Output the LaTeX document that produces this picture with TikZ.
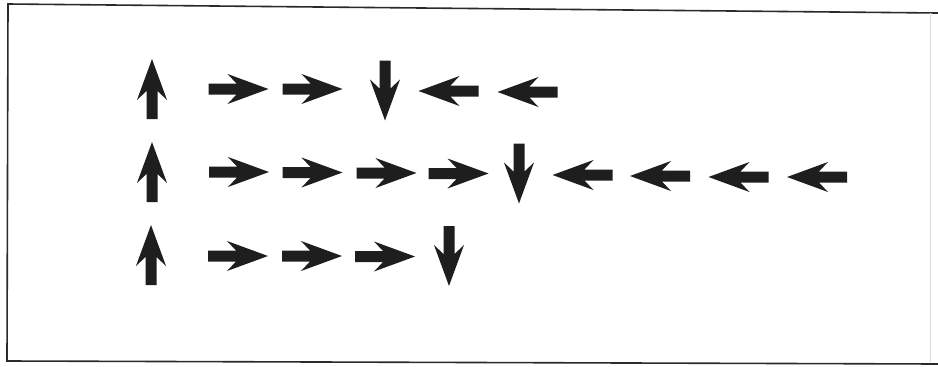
\documentclass[tikz,border=0pt]{standalone}
\begin{document}
\begin{tikzpicture}[x=1pt,y=1pt]
\definecolor{ink}{HTML}{1E1E1E}
\definecolor{frame}{HTML}{2A2A2A}
\tikzset{
  arr/.pic={\fill[ink] (-30,-5.5) -- (-2,-5.5) -- (-11,-15) -- (30,0) -- (-11,15) -- (-2,5.5) -- (-30,5.5) -- cycle;},
  frameline/.style={draw=frame, line width=1.6pt},
}
\fill[white] (0,0) rectangle (938,-367);
\useasboundingbox (0,0) rectangle (938,-367);
% frame
\coordinate (tl) at (8,-4);
\coordinate (tr) at (938,-13);
\coordinate (bl) at (7,-361);
\coordinate (br) at (938,-364);
\draw[frameline] (tr) -- (tl) -- (bl) -- (br);
\draw[draw=black!15, line width=1pt] (930,-13) -- (930,-362);
% row 1
\pic[rotate=90]  at (152,-89)   {arr};
\pic             at (238.5,-89) {arr};
\pic             at (312.5,-89) {arr};
\pic[rotate=-90] at (385,-90.5) {arr};
\pic[rotate=180] at (448.5,-91) {arr};
\pic[rotate=180] at (527.5,-92) {arr};
% row 2
\pic[rotate=90]  at (152,-172)  {arr};
\pic             at (239,-172)  {arr};
\pic             at (312.5,-172.5) {arr};
\pic             at (386.5,-173) {arr};
\pic             at (458.5,-173.5) {arr};
\pic[rotate=-90] at (519,-173.5) {arr};
\pic[rotate=180] at (582.5,-175) {arr};
\pic[rotate=180] at (660,-176)  {arr};
\pic[rotate=180] at (738.5,-177) {arr};
\pic[rotate=180] at (817,-177)  {arr};
% row 3
\pic[rotate=90]  at (151,-255)  {arr};
\pic             at (238,-256)  {arr};
\pic             at (312,-256)  {arr};
\pic             at (385,-256.5) {arr};
\pic[rotate=-90] at (449,-256)  {arr};
\end{tikzpicture}
\end{document}
